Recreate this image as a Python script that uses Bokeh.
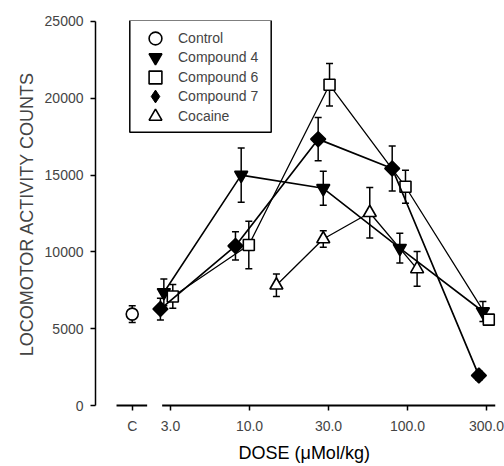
import numpy as np
from bokeh.plotting import figure
from bokeh.models import (ColumnDataSource, Whisker, Legend, LegendItem,
                          FixedTicker, Range1d, TeeHead, Title, BoxAnnotation)
from bokeh.embed import file_html
from bokeh.resources import INLINE

# ---------------- data ----------------
control_pos = [1.81]          # position of the "C" (control) column on the dose axis
control_mean = [5950]
control_sem = [540]

c4_dose = [2.87, 8.86, 29.3, 89.4, 300.0]
c4_mean = [7360, 15000, 14140, 10240, 6120]
c4_sem = [870, 1760, 1110, 970, 650]

c6_dose = [3.27, 9.90, 32.1, 97.1, 327.0]
c6_mean = [7100, 10450, 20880, 14240, 5590]
c6_sem = [770, 1540, 1380, 1070, 250]

c7_dose = [2.73, 8.15, 27.2, 80.0, 283.0]
c7_mean = [6280, 10390, 17340, 15430, 1950]
c7_sem = [710, 920, 1410, 1460, 300]

coc_dose = [14.8, 29.3, 57.7, 115.0]
coc_mean = [7830, 10840, 12550, 8890]
coc_sem = [730, 540, 1650, 1130]

legend_labels = ["Control", "Compound 4", "Compound 6", "Compound 7", "Cocaine"]
x_tick_pos = [1.81, 10 ** 0.5, 10.0, 10 ** 1.5, 100.0, 10 ** 2.5]
x_tick_labels = ["C", "3.0", "10.0", "30.0", "100.0", "300.0"]
y_ticks = [0, 5000, 10000, 15000, 20000, 25000]

FONT = "Liberation Sans"

p = figure(width=504, height=466, x_axis_type="log",
           x_range=Range1d(1.06, 360.5), y_range=Range1d(-130, 25065),
           output_backend="svg", toolbar_location=None,
           min_border_left=95, min_border_right=9, min_border_top=20,
           min_border_bottom=58)
p.outline_line_color = None
p.xgrid.visible = False
p.ygrid.visible = False
p.background_fill_color = "white"

# ---------------- axes ----------------
ya = p.yaxis[0]
ya.ticker = FixedTicker(ticks=y_ticks)
ya.bounds = (0, 25000)
ya.major_tick_in = 0
ya.major_tick_out = 5
ya.minor_tick_line_color = None
ya.major_tick_line_width = 1.5
ya.axis_line_width = 1.5
ya.major_label_standoff = 7
ya.major_label_text_font = FONT
ya.major_label_text_font_size = "14px"
ya.axis_label = "LOCOMOTOR ACTIVITY COUNTS"
ya.axis_label_text_font = FONT
ya.axis_label_text_font_size = "18px"
ya.axis_label_text_font_style = "normal"
ya.axis_label_standoff = 5

xa = p.xaxis[0]
xa.ticker = FixedTicker(ticks=x_tick_pos)
xa.major_label_overrides = {t: l for t, l in zip(x_tick_pos, x_tick_labels)}
xa.bounds = (1.44, 360.5)
xa.axis_line_color = None
xa.major_tick_in = 2
xa.major_tick_out = 3
xa.major_tick_line_width = 1.5
xa.minor_tick_line_color = None
xa.major_label_standoff = 7
xa.major_label_text_font = FONT
xa.major_label_text_font_size = "14px"

# x axis title, centred under the whole (broken) axis
p.add_layout(Title(text="DOSE (\u03bcMol/kg)", align="left", offset=143,
                   text_font=FONT, text_font_size="18px",
                   text_font_style="normal", text_color="black",
                   standoff=8), "below")

# broken x axis line (control segment + dose segment)
p.segment(x0=[1.44, 2.80], y0=[0, 0], x1=[2.25, 360.5], y1=[0, 0],
          line_color="black", line_width=2)

# ---------------- series ----------------
def add_series(x, mean, sem, marker, fill, size, angle=0.0, line=True, lw=1.5):
    x = np.asarray(x, float)
    mean = np.asarray(mean, float)
    sem = np.asarray(sem, float)
    src = ColumnDataSource(dict(x=x, y=mean, lo=mean - sem, hi=mean + sem))
    w = Whisker(base="x", lower="lo", upper="hi", source=src, dimension="height",
                line_color="black", line_width=1.5,
                lower_head=TeeHead(size=7, line_width=1.5, line_color="black"),
                upper_head=TeeHead(size=7, line_width=1.5, line_color="black"))
    p.add_layout(w)
    if line:
        p.line("x", "y", source=src, line_color="black", line_width=lw)
    r = p.scatter("x", "y", source=src, marker=marker, size=size, angle=angle,
                  fill_color=fill, line_color="black", line_width=1.6)
    return r, src

r_ctl, _ = add_series(control_pos, control_mean, control_sem, "circle", "white", 12, line=False)
r_c4, _ = add_series(c4_dose, c4_mean, c4_sem, "inverted_triangle", "black", 13, lw=1.6)
r_c6, _ = add_series(c6_dose, c6_mean, c6_sem, "square", "white", 11, lw=1.3)
r_c7, src_c7 = add_series(c7_dose, c7_mean, c7_sem, "square", "black", 10.5, angle=np.pi / 4, lw=1.7)
r_coc, _ = add_series(coc_dose, coc_mean, coc_sem, "triangle", "white", 13, lw=1.3)

# legend key for compound 7 (diamond symbol; not drawn in the plot itself)
r_c7_key = p.scatter("x", "y", source=src_c7, marker="diamond", size=14,
                     fill_color="black", line_color="black", visible=False)

# ---------------- legend (framed box + one entry per row) ----------------
p.add_layout(BoxAnnotation(left=34.3, right=175.7, bottom=275.3, top=387.3,
                           left_units="screen", right_units="screen",
                           top_units="screen", bottom_units="screen",
                           fill_color="white", fill_alpha=1.0,
                           line_color="black", line_alpha=1.0, line_width=1.5))

key_renderers = [r_ctl, r_c4, r_c6, r_c7_key, r_coc]
for i, (lab, rr) in enumerate(zip(legend_labels, key_renderers)):
    p.add_layout(Legend(items=[LegendItem(label=lab, renderers=[rr])],
                        location=(44, 353 - 19.4 * i), padding=0, margin=0,
                        glyph_width=32, glyph_height=32, label_height=32,
                        label_standoff=7, border_line_color=None,
                        background_fill_alpha=0.0,
                        label_text_font=FONT, label_text_font_size="14px"))

open("out.html", "w").write(file_html(p, INLINE))
